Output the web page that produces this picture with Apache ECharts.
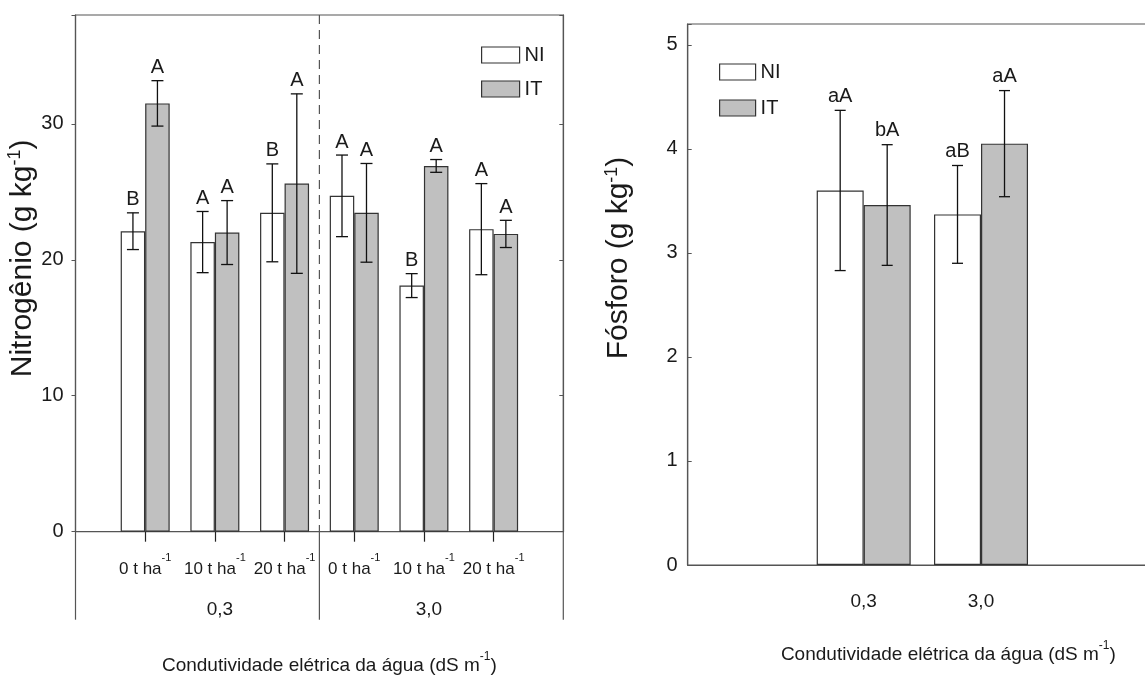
<!DOCTYPE html>
<html><head><meta charset="utf-8">
<script src="https://cdn.jsdelivr.net/npm/echarts@6/dist/echarts.min.js"></script>
<style>html,body{margin:0;padding:0;background:#fff}#c{width:1145px;height:680px}</style>
</head><body><div id="c"></div>
<script>
// ---------- data ----------
const doseLabels = ['0 t ha', '10 t ha', '20 t ha', '0 t ha', '10 t ha', '20 t ha'];
const waterGroups = ['0,3', '3,0'];
const nitroTicks = [0, 10, 20, 30];
const nitroNI = [22.1, 21.3, 23.45, 24.7, 18.1, 22.25];
const nitroNIErr = [1.35, 2.25, 3.6, 3.0, 0.88, 3.35];
const nitroIT = [31.5, 22.0, 25.6, 23.45, 26.9, 21.9];
const nitroITErr = [1.67, 2.35, 6.6, 3.63, 0.47, 1.0];
const nitroNILetters = ['B', 'A', 'B', 'A', 'B', 'A'];
const nitroITLetters = ['A', 'A', 'A', 'A', 'A', 'A'];
const phosTicks = [0, 1, 2, 3, 4, 5];
const phosNI = [3.60, 3.37];
const phosNIErr = [0.77, 0.47];
const phosIT = [3.46, 4.05];
const phosITErr = [0.58, 0.51];
const phosNILetters = ['aA', 'aB'];
const phosITLetters = ['bA', 'aA'];

// ---------- style ----------
const NARROW = "'Liberation Sans Narrow','Arial Narrow','Liberation Sans',Arial,sans-serif";
const REG = "'Liberation Sans',Arial,sans-serif";
const TXT = '#1a1a1a';
const FRAME = '#555';
const NB = 24.5;   // left bar width (px)
const PB = 47;     // right bar width (px)
const NMAX = 38, PMAX = 5.2;

const leftKeys = ['k0','k1','k2','k3','k4','k5','k6','k7'];
const rightKeys = ['r0','r1','r2','r3'];
function pad(a) { return ['-'].concat(a, ['-']); }

function makeErr(letters, dx, capHalf, lift, fontSize) {
  return function (params, api) {
    const c = api.value(0), v = api.value(1), e = api.value(2);
    const pt = api.coord([c, v + e]);
    const pb = api.coord([c, v - e]);
    const x = pt[0] + dx;
    const st = { stroke: '#111', lineWidth: 1.3 };
    return { type: 'group', children: [
      { type: 'line', shape: { x1: x, y1: pt[1], x2: x, y2: pb[1] }, style: st },
      { type: 'line', shape: { x1: x - capHalf, y1: pt[1], x2: x + capHalf, y2: pt[1] }, style: st },
      { type: 'line', shape: { x1: x - capHalf, y1: pb[1], x2: x + capHalf, y2: pb[1] }, style: st },
      { type: 'text', style: { text: letters[params.dataIndex], x: x, y: pt[1] - lift,
          align: 'center', verticalAlign: 'bottom', fontFamily: NARROW, fontSize: fontSize, fill: TXT } }
    ] };
  };
}

const supRich = (mainFont, mainSize, mainLH, supSize, supLH) => ({
  t: { fontFamily: mainFont, fontSize: mainSize, lineHeight: mainLH, color: TXT },
  s: { fontFamily: mainFont, fontSize: supSize, lineHeight: supLH, verticalAlign: 'top', color: TXT }
});

const chart = echarts.init(document.getElementById('c'), null, { renderer: 'canvas' });
chart.setOption({
  animation: false,
  backgroundColor: '#fff',
  grid: [
    { left: 75.5, top: 15, width: 487.8, height: 516.7, show: true, borderColor: FRAME, borderWidth: 1.2, outerBoundsMode: 'none' },
    { left: 687.7, top: 24, width: 469.3, height: 541, show: true, borderColor: FRAME, borderWidth: 1.2, outerBoundsMode: 'none' }
  ],
  legend: [
    { left: 481, top: 45, orient: 'vertical', padding: 0, itemWidth: 38, itemHeight: 16, itemGap: 14, icon: 'rect',
      data: ['NI', 'IT'], selectedMode: false,
      itemStyle: { borderColor: '#333', borderWidth: 1.2 },
      textStyle: { fontFamily: NARROW, fontSize: 20, lineHeight: 16, color: TXT } },
    { left: 719, top: 62, orient: 'vertical', padding: 0, itemWidth: 36, itemHeight: 16, itemGap: 16, icon: 'rect',
      data: ['NI', 'IT'], selectedMode: false,
      itemStyle: { borderColor: '#333', borderWidth: 1.2 },
      textStyle: { fontFamily: NARROW, fontSize: 20, lineHeight: 16, color: TXT } }
  ],
  xAxis: [
    { gridIndex: 0, type: 'category', position: 'bottom', boundaryGap: false, data: leftKeys,
      axisLine: { lineStyle: { color: FRAME, width: 1.2 } },
      axisTick: { interval: (i) => i >= 1 && i <= 6, length: 10, lineStyle: { color: '#222', width: 1.2 } },
      splitLine: { show: false },
      axisLabel: { interval: 0, margin: 21,
        formatter: (v, i) => (i >= 1 && i <= 6) ? '{t|' + doseLabels[i - 1] + '}{s|-1}' : '',
        rich: supRich(NARROW, 17, 34, 11, 11) } },
    { gridIndex: 0, type: 'category', position: 'bottom', boundaryGap: false, data: leftKeys,
      axisLine: { show: false }, axisTick: { show: false }, splitLine: { show: false },
      axisLabel: { interval: 0, margin: 66, fontFamily: NARROW, fontSize: 19, lineHeight: 24, color: TXT, padding: [0, 0, 0, 10],
        formatter: (v, i) => i === 2 ? waterGroups[0] : (i === 5 ? waterGroups[1] : '') },
      name: '{t|Condutividade elétrica da água (dS m}{s|-1}{t|)}', nameLocation: 'middle', nameGap: 119,
      nameTextStyle: { padding: [0, 0, 0, 20], rich: supRich(NARROW, 19, 30, 12, 12) } },
    { gridIndex: 1, type: 'category', position: 'bottom', data: rightKeys,
      axisLine: { lineStyle: { color: FRAME, width: 1.2 } },
      axisTick: { alignWithLabel: true, interval: (i) => i === 1 || i === 2, length: 8, lineStyle: { color: '#222', width: 1.2 } },
      splitLine: { show: false },
      axisLabel: { interval: 0, margin: 25, fontFamily: NARROW, fontSize: 19, lineHeight: 24, color: TXT,
        formatter: (v, i) => (i === 1 || i === 2) ? waterGroups[i - 1] : '' },
      name: '{t|Condutividade elétrica da água (dS m}{s|-1}{t|)}', nameLocation: 'middle', nameGap: 75,
      nameTextStyle: { padding: [0, 0, 0, 52], rich: supRich(NARROW, 19, 30, 12, 12) } }
  ],
  yAxis: [
    { gridIndex: 0, type: 'value', position: 'left', min: 0, max: NMAX, interval: 10,
      axisLine: { show: true, lineStyle: { color: FRAME, width: 1.2 } },
      axisTick: { show: true, length: 4, lineStyle: { color: FRAME } },
      splitLine: { show: false },
      axisLabel: { margin: 12, fontFamily: NARROW, fontSize: 20, color: TXT,
        formatter: (v) => nitroTicks.indexOf(v) >= 0 ? String(v) : '' },
      name: '{t|Nitrogênio (g kg}{s|-1}{t|)}', nameLocation: 'middle', nameRotate: 90, nameGap: 35,
      nameTextStyle: { padding: [0, 0, 0, 30], rich: supRich(REG, 30, 32, 18, 16) } },
    { gridIndex: 0, type: 'value', position: 'right', min: 0, max: NMAX, interval: 10,
      axisLine: { show: true, lineStyle: { color: FRAME, width: 1.2 } },
      axisTick: { show: true, inside: true, length: 4, lineStyle: { color: FRAME } },
      splitLine: { show: false }, axisLabel: { show: false } },
    { gridIndex: 1, type: 'value', position: 'left', min: 0, max: PMAX, interval: 1,
      axisLine: { show: true, lineStyle: { color: FRAME, width: 1.2 } },
      axisTick: { show: true, inside: true, length: 4, lineStyle: { color: FRAME } },
      splitLine: { show: false },
      axisLabel: { margin: 10, fontFamily: NARROW, fontSize: 20, color: TXT,
        formatter: (v) => phosTicks.indexOf(v) >= 0 ? String(v) : '' },
      name: '{t|Fósforo (g kg}{s|-1}{t|)}', nameLocation: 'middle', nameRotate: 90, nameGap: 53,
      nameTextStyle: { padding: [0, 0, 0, 73], rich: supRich(REG, 30, 32, 18, 16) } }
  ],
  series: [
    { type: 'bar', name: 'NI', xAxisIndex: 0, yAxisIndex: 0, data: pad(nitroNI), barWidth: NB, barGap: '0%',
      itemStyle: { color: '#ffffff', borderColor: '#333', borderWidth: 1.2 }, silent: true },
    { type: 'bar', name: 'IT', xAxisIndex: 0, yAxisIndex: 0, data: pad(nitroIT), barWidth: NB, barGap: '0%',
      itemStyle: { color: '#c0c0c0', borderColor: '#333', borderWidth: 1.2 }, silent: true },
    { type: 'bar', name: 'NI', xAxisIndex: 2, yAxisIndex: 2, data: pad(phosNI), barWidth: PB, barGap: '0%',
      itemStyle: { color: '#ffffff', borderColor: '#333', borderWidth: 1.2 }, silent: true },
    { type: 'bar', name: 'IT', xAxisIndex: 2, yAxisIndex: 2, data: pad(phosIT), barWidth: PB, barGap: '0%',
      itemStyle: { color: '#c0c0c0', borderColor: '#333', borderWidth: 1.2 }, silent: true },
    { type: 'custom', xAxisIndex: 0, yAxisIndex: 0, silent: true, z: 5,
      data: nitroNI.map((v, i) => [i + 1, v, nitroNIErr[i]]),
      renderItem: makeErr(nitroNILetters, -NB / 2, 6, 3, 20) },
    { type: 'custom', xAxisIndex: 0, yAxisIndex: 0, silent: true, z: 5,
      data: nitroIT.map((v, i) => [i + 1, v, nitroITErr[i]]),
      renderItem: makeErr(nitroITLetters, NB / 2, 6, 3, 20) },
    { type: 'custom', xAxisIndex: 2, yAxisIndex: 2, silent: true, z: 5,
      data: phosNI.map((v, i) => [i + 1, v, phosNIErr[i]]),
      renderItem: makeErr(phosNILetters, -PB / 2, 5.5, 4, 20) },
    { type: 'custom', xAxisIndex: 2, yAxisIndex: 2, silent: true, z: 5,
      data: phosIT.map((v, i) => [i + 1, v, phosITErr[i]]),
      renderItem: makeErr(phosITLetters, PB / 2, 5.5, 4, 20) },
    { type: 'custom', xAxisIndex: 0, yAxisIndex: 0, silent: true, z: 1,
      data: [[0, 0], [3, 4], [7, 7]],
      renderItem: function (params, api) {
        const a = api.coord([api.value(0), 0]);
        const b = api.coord([api.value(1), 0]);
        const x = (a[0] + b[0]) / 2, y0 = a[1];
        const yTop = api.coord([api.value(0), NMAX])[1];
        const ch = [{ type: 'line', shape: { x1: x, y1: y0, x2: x, y2: y0 + 88 }, style: { stroke: FRAME, lineWidth: 1.2 } }];
        if (params.dataIndex === 1) {
          ch.push({ type: 'line', shape: { x1: x, y1: yTop, x2: x, y2: y0 }, style: { stroke: FRAME, lineWidth: 1.2, lineDash: [9, 6] } });
        }
        return { type: 'group', children: ch };
      } }
  ]
});
</script>
</body></html>
